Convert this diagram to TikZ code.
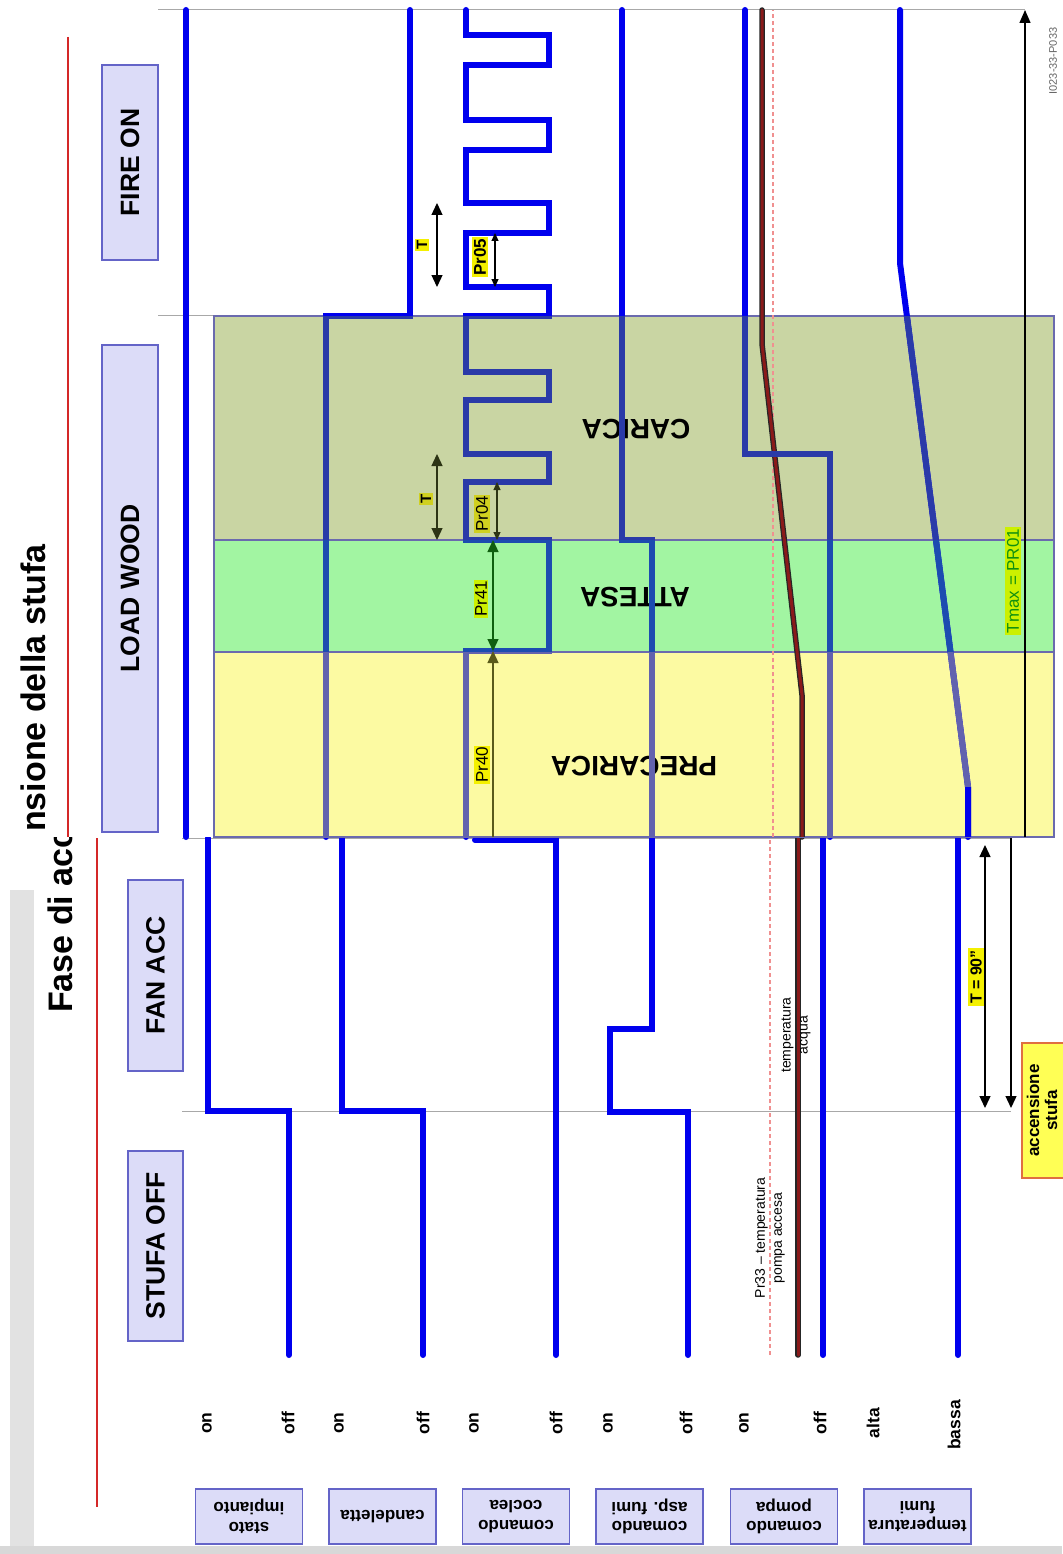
\documentclass[tikz,border=0pt]{standalone}
\usepackage{fontspec}
\setmainfont{Liberation Sans}
\usetikzlibrary{arrows.meta}
\newcommand\myfs[2]{\fontsize{#1}{#2}\selectfont}
\definecolor{sig}{HTML}{0000EE}
\definecolor{sigY}{HTML}{6262AE}
\definecolor{sigG}{HTML}{1C4CB0}
\definecolor{sigO}{HTML}{2A3AA8}
\definecolor{bandY}{HTML}{FCFAA2}
\definecolor{bandG}{HTML}{A2F5A2}
\definecolor{bandO}{HTML}{C9D5A3}
\definecolor{bandline}{HTML}{6A6AAE}
\definecolor{boxfill}{HTML}{DCDCF8}
\definecolor{boxline}{HTML}{6464C8}
\definecolor{brownline}{HTML}{8A1A1A}
\definecolor{redline}{HTML}{D42828}
\definecolor{phase}{HTML}{A8A8A8}
\definecolor{dashc}{HTML}{F09090}
\definecolor{tolive}{HTML}{2C3414}
\definecolor{tgreen}{HTML}{0F5F0F}
\definecolor{tpr40}{HTML}{5A5A1A}
\definecolor{ylab}{HTML}{F4F000}
\definecolor{yglab}{HTML}{CCF000}
\definecolor{oylab}{HTML}{D0D020}
\definecolor{tmaxtxt}{HTML}{109010}
\definecolor{accfill}{HTML}{FFFF55}
\definecolor{accline}{HTML}{E07040}
\definecolor{grayedge}{HTML}{E2E2E2}

\newcommand\drawupsig[1]{%
\draw[sigline,#1] (326,837)--(326,316)--(410,316)--(410,10);
\draw[sigline,#1] (466,837)--(466,651)--(549,651)--(549,540)--(466,540)--(466,482)--(549,482)--(549,454)--(466,454)--(466,400)--(549,400)--(549,372)--(466,372)--(466,316)--(549,316)--(549,287)--(466,287)--(466,233)--(549,233)--(549,203)--(466,203)--(466,150)--(549,150)--(549,120)--(466,120)--(466,65)--(549,65)--(549,35)--(466,35)--(466,10);
\draw[sigline,#1] (652,837)--(652,540)--(622,540)--(622,10);
\draw[sigline,#1] (830,837)--(830,454)--(745,454)--(745,10);
\draw[sigline,#1] (968,837)--(968,787)--(900,263)--(900,10);
}

\begin{document}
\begin{tikzpicture}[x=1pt,y=-1pt,
  sigline/.style={line width=6pt, line cap=round, line join=miter},
  phasebox/.style={draw=boxline, fill=boxfill, line width=1.3pt, rotate=90, font=\myfs{26.5}{30}\bfseries, inner sep=0pt, minimum height=55},
  lblbox/.style={draw=boxline, fill=boxfill, line width=1.3pt, rotate=180, font=\myfs{17}{19.5}\bfseries, align=center, inner sep=0pt, minimum width=107, minimum height=55},
  state/.style={rotate=90, font=\myfs{17.5}{20}\bfseries, inner sep=0pt},
  bandtxt/.style={rotate=180, font=\myfs{28}{30}\bfseries, inner sep=0pt},
  small/.style={rotate=90, font=\myfs{14}{17}, align=center, inner sep=0pt},
  tag/.style={rotate=90, inner sep=1.5pt, font=\myfs{17}{19}},
  phaseline/.style={draw=phase, line width=1pt},
  redl/.style={draw=redline, line width=1.6pt},
  dashline/.style={draw=dashc, line width=1.6pt, dash pattern=on 4pt off 3pt},
  arr/.style={line width=1.3pt, >={Triangle[length=12pt,width=11pt]}},
  arrs/.style={line width=1.1pt, >={Triangle[length=8pt,width=7pt]}}
]
\useasboundingbox (0,0) rectangle (1062,1554);
\fill[white] (0,0) rectangle (1062,1554);
% grey edges of the screenshot
\fill[grayedge] (10,890) rectangle (34,1554);
\fill[grayedge!90!gray] (0,1546) rectangle (1062,1554);
\fill[gray!30] (10,0) rectangle (42,5);

% ================= LOWER PIECE =================
\node[anchor=base west, rotate=90, inner sep=0pt, font=\myfs{34}{36}\bfseries] (title1) at (72,1013) {Fase di acc};
\draw[redl] (97,838) -- (97,1507);

% phase boundary lines
\draw[phaseline] (182,838) -- (1011,838);
\draw[phaseline] (182,1111) -- (1011,1111);

% signals lower
\draw[dashline] (770,1355) -- (770,838);
\draw[line width=5.5pt, black!85, line cap=round] (798,1355) -- (798,838);
\draw[line width=3pt, brownline, line cap=round] (798,1355) -- (798,838);
\draw[sigline, sig] (289,1355)--(289,1111)--(208,1111)--(208,838);
\draw[sigline, sig] (423,1355)--(423,1111)--(342,1111)--(342,838);
\draw[sigline, sig] (556,1355)--(556,840)--(475,840);
\draw[sigline, sig] (688,1355)--(688,1112)--(610,1112)--(610,1029)--(652,1029)--(652,838);
\draw[sigline, sig] (823,1355)--(823,838);
\draw[sigline, sig] (958,1355)--(958,838);

% time arrows lower
\draw[arr,<->] (985,845) -- (985,1108);
\draw[arr,->] (1011,838) -- (1011,1108);
\node[tag, fill=ylab, font=\myfs{16}{18}\bfseries, inner sep=2pt] (t90) at (976,977) {T = 90"};

% small labels
\node[small] (pr33) at (770,1238) {Pr33 – temperatura\\pompa accesa};
\node[small] (tacq) at (796,1035) {temperatura\\acqua};

% phase boxes lower
\node[phasebox, minimum width=190] (stufaoff) at (155.5,1246) {STUFA OFF};
\node[phasebox, minimum width=191] (fanacc) at (155.5,975.5) {FAN ACC};

% accensione box (runs past the right edge, as in the reference)
\filldraw[fill=accfill, draw=accline, line width=1.5pt] (1022,1043) rectangle (1080,1178);
\node[rotate=90, align=center, inner sep=0pt, font=\myfs{17}{18}\bfseries] (acc) at (1042,1110.5) {accensione\\stufa};

% state labels
\node[state] (on1) at (207,1423) {on};
\node[state] (off1) at (288,1423) {off};
\node[state] (on2) at (339,1423) {on};
\node[state] (off2) at (423,1423) {off};
\node[state] (on3) at (474,1423) {on};
\node[state] (off3) at (556,1423) {off};
\node[state] (on4) at (608,1423) {on};
\node[state] (off4) at (686,1423) {off};
\node[state] (on5) at (744,1423) {on};
\node[state] (off5) at (820,1423) {off};
\node[state] (alta) at (873,1423) {alta};
\node[state] (bassa) at (954,1425) {bassa};

% signal name boxes
\node[lblbox] (b1) at (249,1516.5) {stato\\impianto};
\node[lblbox] (b2) at (382.5,1516.5) {candeletta};
\node[lblbox] (b3) at (516,1516.5) {comando\\coclea};
\node[lblbox] (b4) at (649.5,1516.5) {comando\\asp. fumi};
\node[lblbox] (b5) at (784,1516.5) {comando\\pompa};
\node[lblbox] (b6) at (917.5,1516.5) {temperatura\\fumi};

% ================= UPPER PIECE =================
\fill[white] (0,0) rectangle (1062,837);
\node[anchor=base west, rotate=90, inner sep=0pt, font=\myfs{34}{36}\bfseries] (title2) at (45,832) {nsione della stufa};
\draw[redl] (68,37) -- (68,837);

\draw[phaseline] (158,10) -- (1025,10);
\draw[phaseline] (158,315) -- (1054,315);

% bands
\filldraw[fill=bandO, draw=bandline, line width=1.2pt] (214,316) rectangle (1054,540);
\filldraw[fill=bandG, draw=bandline, line width=1.2pt] (214,540) rectangle (1054,652);
\filldraw[fill=bandY, draw=bandline, line width=1.2pt] (214,652) rectangle (1054,837);
\node[bandtxt] (carica) at (636,429) {CARICA};
\node[bandtxt] (attesa) at (635,597) {ATTESA};
\node[bandtxt] (precarica) at (634,766) {PRECARICA};

% water temperature and threshold
\draw[dashline] (773,837) -- (773,10);
\draw[line width=5.5pt, black!85, line cap=round, line join=round] (802,837)--(802,695)--(762,344)--(762,10);
\draw[line width=3pt, brownline, line cap=round, line join=round] (802,837)--(802,695)--(762,344)--(762,10);

% signals upper
\draw[sigline, sig] (186,837)--(186,10);
\drawupsig{sig}
\begin{scope}
\clip (214,316) rectangle (1054,540);
\drawupsig{sigO}
\end{scope}
\begin{scope}
\clip (214,540) rectangle (1054,652);
\drawupsig{sigG}
\end{scope}
\begin{scope}
\clip (214,652) rectangle (1054,837);
\drawupsig{sigY}
\end{scope}
\draw[line width=6pt, sig] (968,837)--(968,787);
\draw[line width=0.8pt, bandline] (214,837) -- (1054,837);

% arrows and tags upper
\draw[arr,<->] (437,203) -- (437,287);
\draw[arrs,<->] (495,233) -- (495,287);
\node[tag, fill=ylab, font=\myfs{15}{17}\bfseries] (tfire) at (422,245) {T};
\node[tag, fill=ylab, font=\myfs{17}{19}\bfseries] (pr05) at (480,257) {Pr05};

\draw[arr,<->, tolive] (437,454) -- (437,540);
\draw[arrs,<->, tolive] (497,482) -- (497,540);
\node[tag, fill=oylab, font=\myfs{15}{17}\bfseries] (tcar) at (426,499) {T};
\node[tag, fill=oylab] (pr04) at (482,514) {Pr04};

\draw[arr,<->, tgreen] (493,540) -- (493,651);
\node[tag, fill=yglab] (pr41) at (481,599) {Pr41};

\draw[arr,->, tpr40] (493,837) -- (493,651);
\node[tag, fill=ylab] (pr40) at (482,765) {Pr40};

\draw[line width=1.3pt, ->, >={Triangle[length=13pt,width=11pt]}] (1025,837) -- (1025,10);
\node[tag, fill=yglab, text=tmaxtxt, font=\myfs{17}{19}] (tmax) at (1013,581) {Tmax = PR01};

\node[rotate=90, inner sep=0pt, text=black!60, font=\myfs{11}{13}] (code) at (1053,61) {I023-33-P033};

% phase boxes upper
\node[phasebox, minimum width=487, minimum height=56] (loadwood) at (130,588.5) {LOAD WOOD};
\node[phasebox, minimum width=195, minimum height=56] (fireon) at (130,162.5) {FIRE ON};
\end{tikzpicture}
\end{document}
